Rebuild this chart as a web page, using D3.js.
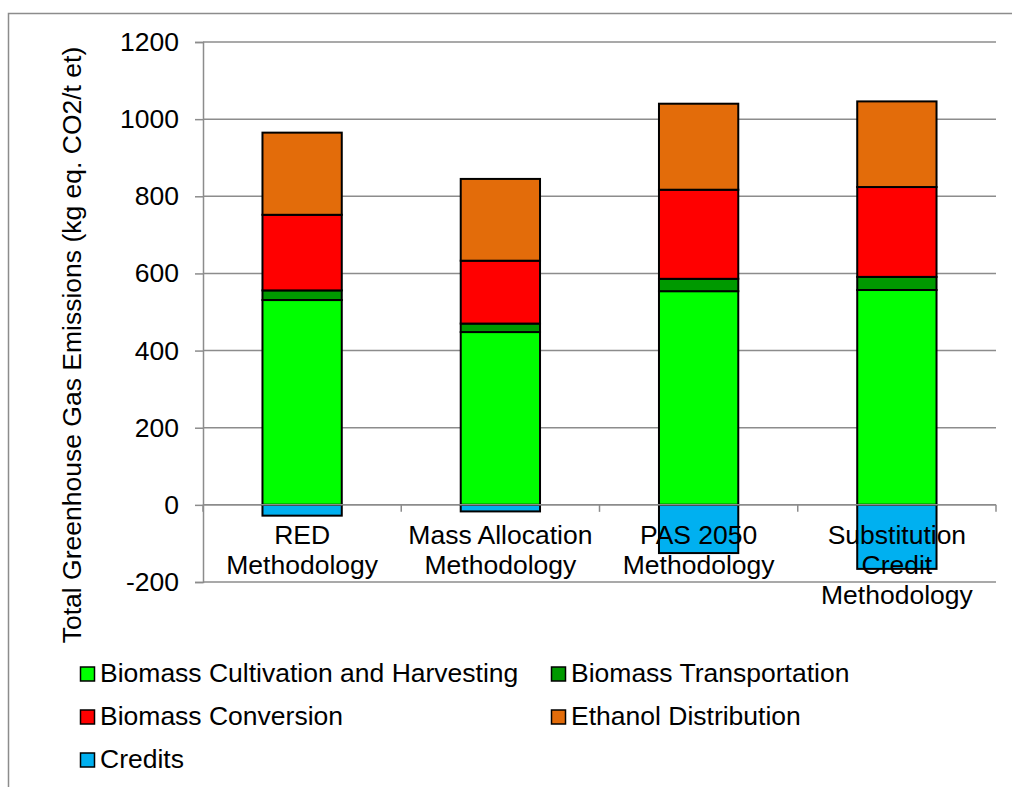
<!DOCTYPE html>
<html>
<head>
<meta charset="utf-8">
<script src="https://cdn.jsdelivr.net/npm/d3@7"></script>
<style>
  html, body { margin: 0; padding: 0; background: #fff; }
  svg text { font-family: "Liberation Sans", Arial, sans-serif; fill: #000; }
</style>
</head>
<body>
<svg id="chart" width="1012" height="787"></svg>
<script>
// ---- data ----
const categories = ["RED Methodology", "Mass Allocation Methodology", "PAS 2050 Methodology", "Substitution Credit Methodology"];
const categoryLines = [["RED", "Methodology"], ["Mass Allocation", "Methodology"], ["PAS 2050", "Methodology"], ["Substitution", "Credit", "Methodology"]];
const seriesNames = ["Biomass Cultivation and Harvesting", "Biomass Transportation", "Biomass Conversion", "Ethanol Distribution", "Credits"];
const cultivation  = [531, 448, 554, 557];
const transport    = [25, 22, 32, 34];
const conversion   = [196, 163, 231, 233];
const distribution = [213, 212, 223, 222];
const credits      = [-28, -17, -125, -166];
const yTicks = [-200, 0, 200, 400, 600, 800, 1000, 1200];
const colors = ["#00FF00", "#009900", "#FF0000", "#E36C0A", "#00B0F0"];
const yTitle = "Total Greenhouse Gas Emissions (kg eq. CO2/t et)";

const FS = 26.5;

// ---- build table ----
const seriesValues = [cultivation, transport, conversion, distribution, credits];
const rows = categories.map((c, i) => {
  const r = { category: c };
  seriesNames.forEach((s, j) => r[s] = seriesValues[j][i]);
  return r;
});

const svg = d3.select("#chart");
svg.append("rect").attr("width", 1012).attr("height", 787).attr("fill", "#fff");
// outer chart border
svg.append("rect").attr("x", 8.5).attr("y", 13.5).attr("width", 1020).attr("height", 800)
  .attr("fill", "none").attr("stroke", "#8c8c8c").attr("stroke-width", 1.5);

const plot = { left: 203, right: 996, top: 42, bottom: 582 };
const y = d3.scaleLinear().domain([-200, 1200]).range([plot.bottom, plot.top]);
const x = d3.scaleBand().domain(categories).range([plot.left, plot.right]).paddingInner(0.6).paddingOuter(0.3);

// gridlines
svg.append("g").selectAll("line").data(yTicks).join("line")
  .attr("x1", plot.left).attr("x2", plot.right)
  .attr("y1", d => y(d)).attr("y2", d => y(d))
  .attr("stroke", "#8c8c8c").attr("stroke-width", 1.5);

// y axis
const yAxis = svg.append("g").attr("transform", `translate(${plot.left},0)`)
  .call(d3.axisLeft(y).tickValues(yTicks).tickSize(8).tickPadding(16).tickFormat(d => String(d)));
yAxis.select(".domain").attr("stroke", "#8c8c8c").attr("stroke-width", 1.5);
yAxis.selectAll(".tick line").attr("stroke", "#8c8c8c").attr("stroke-width", 1.5);
yAxis.selectAll(".tick text").attr("font-size", FS).attr("font-family", "Liberation Sans, Arial, sans-serif").attr("fill", "#000");

// stacked bars
const stack = d3.stack().keys(seriesNames).offset(d3.stackOffsetDiverging);
const stacked = stack(rows);
svg.append("g").selectAll("g").data(stacked).join("g")
  .attr("fill", (d, i) => colors[i])
  .selectAll("rect").data(d => d).join("rect")
  .attr("x", d => x(d.data.category))
  .attr("width", x.bandwidth())
  .attr("y", d => y(Math.max(d[0], d[1])))
  .attr("height", d => Math.abs(y(d[0]) - y(d[1])))
  .attr("stroke", "#000").attr("stroke-width", 2);

// zero (category) axis line over bars, with boundary ticks
svg.append("line").attr("x1", plot.left).attr("x2", plot.right)
  .attr("y1", y(0)).attr("y2", y(0))
  .attr("stroke", "#8c8c8c").attr("stroke-width", 1.5);
const step = x.step();
const bounds = categories.map(c => x(c) - (step - x.bandwidth()) / 2).concat([plot.right]);
svg.append("g").selectAll("line").data(bounds).join("line")
  .attr("x1", d => d).attr("x2", d => d)
  .attr("y1", y(0)).attr("y2", y(0) + 7)
  .attr("stroke", "#8c8c8c").attr("stroke-width", 1.5);

// category labels
const lab = svg.append("g");
categories.forEach((c, i) => {
  const cx = x(c) + x.bandwidth() / 2;
  categoryLines[i].forEach((t, k) => {
    lab.append("text").attr("x", cx).attr("y", 544 + k * 30)
      .attr("text-anchor", "middle").attr("font-size", FS).text(t);
  });
});

// y title
svg.append("text")
  .attr("transform", `translate(81,${(40 + 650) / 2}) rotate(-90)`)
  .attr("text-anchor", "middle").attr("font-size", FS).text(yTitle);

// legend
const legendPos = [[80, 682], [551, 682], [80, 725], [551, 725], [80, 768]];
const lg = svg.append("g");
seriesNames.forEach((s, i) => {
  const [lx, ly] = legendPos[i];
  lg.append("rect").attr("x", lx + 0.5).attr("y", ly - 15).attr("width", 14).attr("height", 14)
    .attr("fill", colors[i]).attr("stroke", "#000").attr("stroke-width", 1.5);
  lg.append("text").attr("x", lx + 20).attr("y", ly).attr("font-size", FS).text(s);
});
</script>
</body>
</html>
